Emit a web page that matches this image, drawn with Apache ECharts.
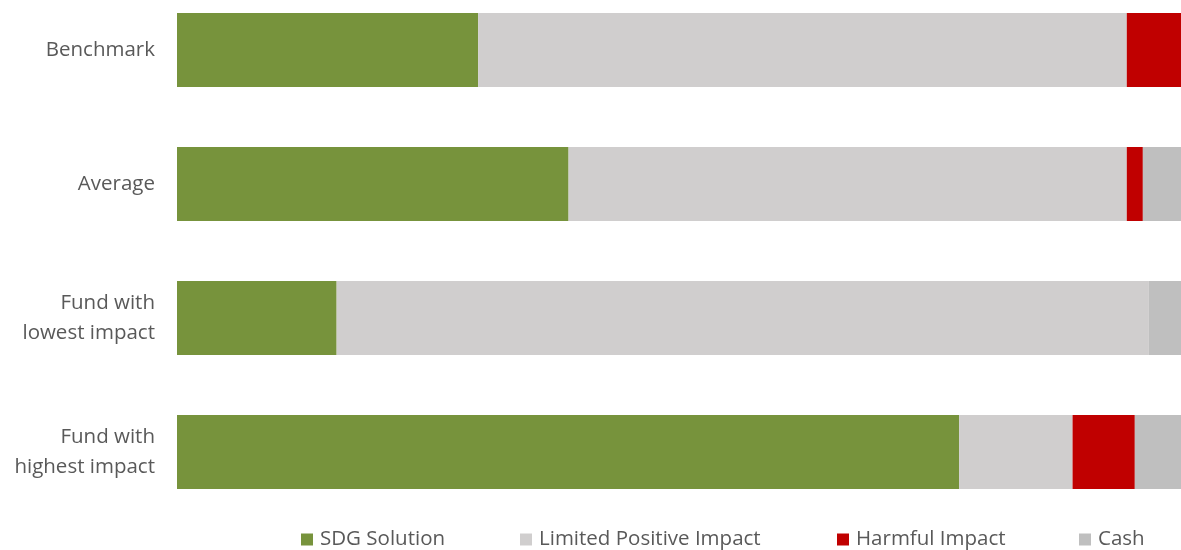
<!DOCTYPE html>
<html>
<head>
<meta charset="utf-8">
<script src="https://cdn.jsdelivr.net/npm/echarts@6/dist/echarts.min.js"></script>
<style>
html,body{margin:0;padding:0;background:#fff;overflow:hidden;width:1181px;height:550px;position:relative;}
#chart{position:absolute;left:0;top:-17px;width:1181px;height:567px;}
</style>
</head>
<body>
<div id="chart"></div>
<script>
const categories = ['Benchmark', 'Average', 'Fund with\nlowest impact', 'Fund with\nhighest impact'];
const seriesNames = ['SDG Solution', 'Limited Positive Impact', 'Harmful Impact', 'Cash'];
const sdgSolution = [30.0, 39.0, 15.9, 77.9];
const limitedPositive = [64.6, 55.6, 80.9, 11.3];
const harmful = [5.4, 1.6, 0, 6.2];
const cash = [0, 3.8, 3.2, 4.6];
const colors = ['#77933C', '#D0CECE', '#C00000', '#BFBFBF'];
const values = [sdgSolution, limitedPositive, harmful, cash];
const legendLeft = [301, 520, 837, 1079];

const chart = echarts.init(document.getElementById('chart'));
chart.setOption({
  animation: false,
  grid: { left: 177, right: 0, top: 0, height: 536, containLabel: false },
  xAxis: { type: 'value', min: 0, max: 100, show: false },
  yAxis: {
    type: 'category', data: categories, inverse: true,
    axisLine: { show: false }, axisTick: { show: false }, splitLine: { show: false },
    axisLabel: { color: '#595959', fontSize: 20.5, fontFamily: 'Open Sans', margin: 22, lineHeight: 30, align: 'right' }
  },
  legend: seriesNames.map((n, i) => ({
    data: [n], left: legendLeft[i], top: 546, padding: 0, icon: 'rect', itemWidth: 12, itemHeight: 12, itemGap: 0,
    textStyle: { color: '#595959', fontSize: 20.5, fontFamily: 'Open Sans', padding: [0, 0, 0, 2] },
    selectedMode: false
  })),
  series: seriesNames.map((n, i) => ({
    name: n, type: 'bar', stack: 'total', data: values[i], barWidth: 74,
    itemStyle: { color: colors[i] }
  }))
});
</script>
</body>
</html>
